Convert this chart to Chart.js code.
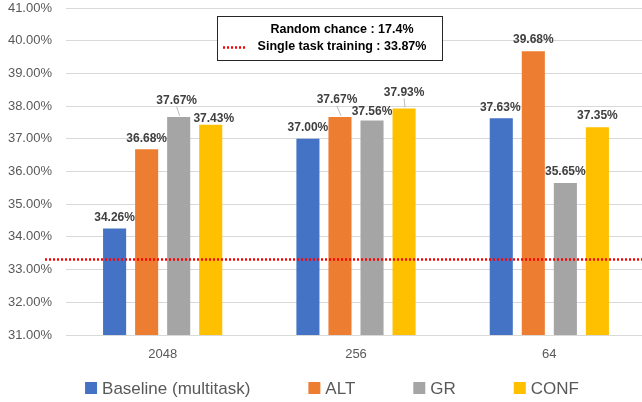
<!DOCTYPE html>
<html>
<head>
<meta charset="utf-8">
<script src="https://cdn.jsdelivr.net/npm/chart.js@4.4.1/dist/chart.umd.min.js"></script>
<style>
    html, body { margin: 0; padding: 0; background: #ffffff; overflow: hidden; }
    #wrap { width: 646px; height: 402px; }
</style>
</head>
<body>
<div id="wrap"><canvas id="chart" width="646" height="402"></canvas></div>
<script>
const categories = ["2048", "256", "64"];
const seriesNames = ["Baseline (multitask)", "ALT", "GR", "CONF"];
const baselineValues = [34.26, 37.00, 37.63];
const altValues = [36.68, 37.67, 39.68];
const grValues = [37.67, 37.56, 35.65];
const confValues = [37.43, 37.93, 37.35];
const yTicks = [31, 32, 33, 34, 35, 36, 37, 38, 39, 40, 41];
const randomChance = 17.4;
const singleTaskLabel = 33.87;
const singleTaskLevel = 33.33; // where the dotted line sits in the picture

const colors = ["#4472C4", "#ED7D31", "#A5A5A5", "#FFC000"];
const FONT = "'Liberation Sans', Arial, sans-serif";

// label nudges [dx, dy] per series/category, plus leader line flags
const labelNudge = [
    [[0, 0], [0, 0], [-1, 0]],
    [[0, 0], [-3, -6], [0, 0]],
    [[-2, -5], [0, 2], [0, 0]],
    [[3, 5], [0, -5], [0, -1]]
];
const leaderLines = [
    [false, false, false],
    [false, true, false],
    [true, false, false],
    [false, true, false]
];

const valueLabels = {
    id: "valueLabels",
    afterDatasetsDraw(chart) {
        const ctx = chart.ctx;
        const y = chart.scales.y;
        // dotted single-task line
        ctx.save();
        ctx.strokeStyle = "#FF0000";
        ctx.lineWidth = 2.5;
        ctx.setLineDash([2, 2]);
        const ly = Math.round(y.getPixelForValue(singleTaskLevel)) + 0.5;
        ctx.beginPath();
        ctx.moveTo(45, ly);
        ctx.lineTo(chart.width, ly);
        ctx.stroke();
        ctx.restore();

        ctx.save();
        ctx.font = "bold 12px " + FONT;
        ctx.fillStyle = "#404040";
        ctx.textAlign = "center";
        ctx.textBaseline = "middle";
        chart.data.datasets.forEach((ds, i) => {
            const meta = chart.getDatasetMeta(i);
            meta.data.forEach((bar, j) => {
                const [dx, dy] = labelNudge[i][j];
                const tx = bar.x + dx;
                const ty = bar.y - 11 + dy;
                ctx.fillText(ds.data[j].toFixed(2) + "%", tx, ty);
                if (leaderLines[i][j]) {
                    ctx.save();
                    ctx.strokeStyle = "#A6A6A6";
                    ctx.lineWidth = 0.75;
                    ctx.beginPath();
                    ctx.moveTo(tx, ty + 6);
                    ctx.lineTo(bar.x + 1, bar.y - 1);
                    ctx.stroke();
                    ctx.restore();
                }
            });
        });
        ctx.restore();
    },
    afterDraw(chart) {
        const ctx = chart.ctx;
        // annotation box
        ctx.save();
        ctx.fillStyle = "#ffffff";
        ctx.fillRect(217, 16, 225, 44);
        ctx.strokeStyle = "#262626";
        ctx.lineWidth = 1;
        ctx.strokeRect(217.5, 16.5, 225, 44);
        ctx.font = "bold 12.5px " + FONT;
        ctx.fillStyle = "#000000";
        ctx.textAlign = "center";
        ctx.textBaseline = "middle";
        ctx.fillText("Random chance : " + randomChance + "%", 342, 30);
        ctx.fillText("Single task training : " + singleTaskLabel.toFixed(2) + "%", 342, 47);
        ctx.strokeStyle = "#FF0000";
        ctx.lineWidth = 2.5;
        ctx.setLineDash([2, 2]);
        ctx.beginPath();
        ctx.moveTo(223, 47.5);
        ctx.lineTo(246, 47.5);
        ctx.stroke();
        ctx.restore();

        // bottom legend
        ctx.save();
        ctx.font = "17px " + FONT;
        ctx.textBaseline = "middle";
        const gap = 58;
        const widths = seriesNames.map((n) => 17 + ctx.measureText(n).width);
        const total = widths.reduce((a, b) => a + b, 0) + gap * (widths.length - 1);
        let x = 332 - total / 2;
        seriesNames.forEach((name, i) => {
            ctx.fillStyle = colors[i];
            ctx.fillRect(x, 382, 12, 12);
            ctx.fillStyle = "#595959";
            ctx.fillText(name, x + 17, 389);
            x += widths[i] + gap;
        });
        ctx.restore();
    }
};

new Chart(document.getElementById("chart"), {
    type: "bar",
    data: {
        labels: categories,
        datasets: [baselineValues, altValues, grValues, confValues].map((vals, i) => ({
            label: seriesNames[i],
            data: vals,
            backgroundColor: colors[i],
            borderWidth: 0,
            categoryPercentage: 0.663,
            barPercentage: 0.72
        }))
    },
    options: {
        responsive: false,
        animation: false,
        devicePixelRatio: 1,
        layout: { padding: { top: 8, bottom: 39, left: 0, right: 0 } },
        plugins: {
            legend: { display: false },
            tooltip: { enabled: false }
        },
        scales: {
            x: {
                grid: { display: false, drawTicks: false },
                border: { display: false },
                ticks: { color: "#595959", font: { family: FONT, size: 13 }, padding: 12 },
                afterFit(scale) { scale.height = 28; }
            },
            y: {
                min: yTicks[0],
                max: yTicks[yTicks.length - 1],
                afterBuildTicks(scale) { scale.ticks = yTicks.map((v) => ({ value: v })); },
                grid: { color: "#D9D9D9", lineWidth: 1, drawTicks: false },
                border: { display: false },
                ticks: {
                    color: "#595959",
                    font: { family: FONT, size: 13 },
                    padding: 14,
                    callback: (v) => Number(v).toFixed(2) + "%"
                },
                afterFit(scale) {
                    scale.width = 66;
                    scale.paddingTop = 0;
                    scale.paddingBottom = 0;
                }
            }
        }
    },
    plugins: [valueLabels]
});
</script>
</body>
</html>
